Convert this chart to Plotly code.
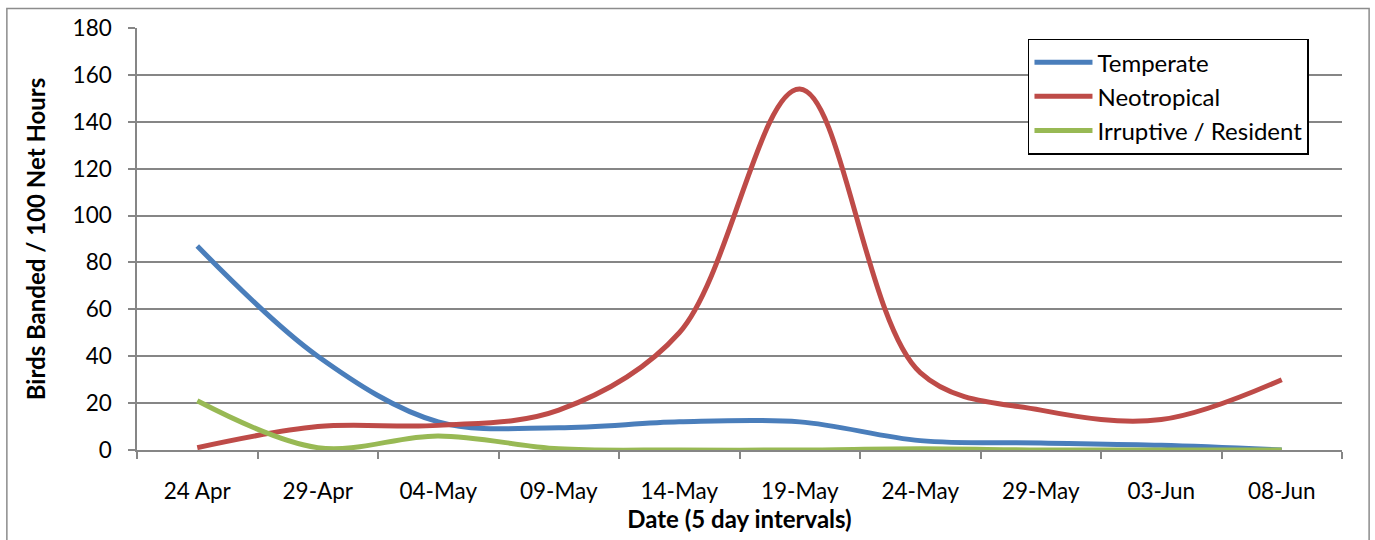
import plotly.graph_objects as go

# Five-day banding intervals
dates = ["24 Apr", "29-Apr", "04-May", "09-May", "14-May",
         "19-May", "24-May", "29-May", "03-Jun", "08-Jun"]

# Birds banded per 100 net hours, by migrant group
temperate = [87, 40, 12, 9.5, 12, 12, 4, 3, 2, 0]
neotropical = [1, 10, 10.5, 17, 50, 154, 33, 17, 13, 30]
irruptive_resident = [21, 1, 6, 0.5, 0, 0, 0.5, 0, 0, 0]

series = [
    ("Temperate", temperate, "#4A7EBB"),
    ("Neotropical", neotropical, "#BE4B48"),
    ("Irruptive / Resident", irruptive_resident, "#98B954"),
]

FONT = "Lato, 'Open Sans', sans-serif"
GRID = "#868686"

fig = go.Figure()
for name, values, color in series:
    fig.add_trace(go.Scatter(
        x=dates, y=values, name=name, mode="lines",
        line=dict(color=color, width=5, shape="spline", smoothing=1.0),
    ))

fig.update_layout(
    width=1375, height=540,
    margin=dict(l=137, r=33, t=28, b=90),
    paper_bgcolor="white", plot_bgcolor="white",
    font=dict(family=FONT, size=22, color="black"),
    showlegend=True,
    legend=dict(
        x=0.7394, y=0.975, xanchor="left", yanchor="top",
        bgcolor="white", bordercolor="black", borderwidth=1.5,
        font=dict(family=FONT, size=24, color="black"),
        tracegroupgap=0, itemwidth=58,
    ),
    xaxis=dict(
        type="category", range=[-0.5, 9.5],
        tickson="boundaries", ticks="outside", ticklen=7, tickwidth=1.5,
        tickcolor=GRID, showline=True, linecolor=GRID, linewidth=1.5,
        showgrid=False, tickfont=dict(size=22.5), ticklabelstandoff=20,
        title=dict(text="<b>Date (5 day intervals)</b>", standoff=2,
                   font=dict(size=24)),
    ),
    yaxis=dict(
        range=[0, 180], dtick=20, ticks="outside", ticklen=7, tickwidth=1.5,
        tickcolor=GRID, showline=True, linecolor=GRID, linewidth=1.5,
        showgrid=True, gridcolor=GRID, gridwidth=1.5, zeroline=False,
        tickfont=dict(size=22.5), ticklabelstandoff=12,
        title=dict(text="<b>Birds Banded / 100 Net Hours</b>", standoff=20,
                   font=dict(size=24)),
    ),
    shapes=[dict(type="rect", xref="paper", yref="paper",
                 x0=-0.108, x1=1.0225, y0=-0.35, y1=1.046,
                 line=dict(color="#8c8c8c", width=1.5), layer="below")],
)

fig.write_html("out.html")
